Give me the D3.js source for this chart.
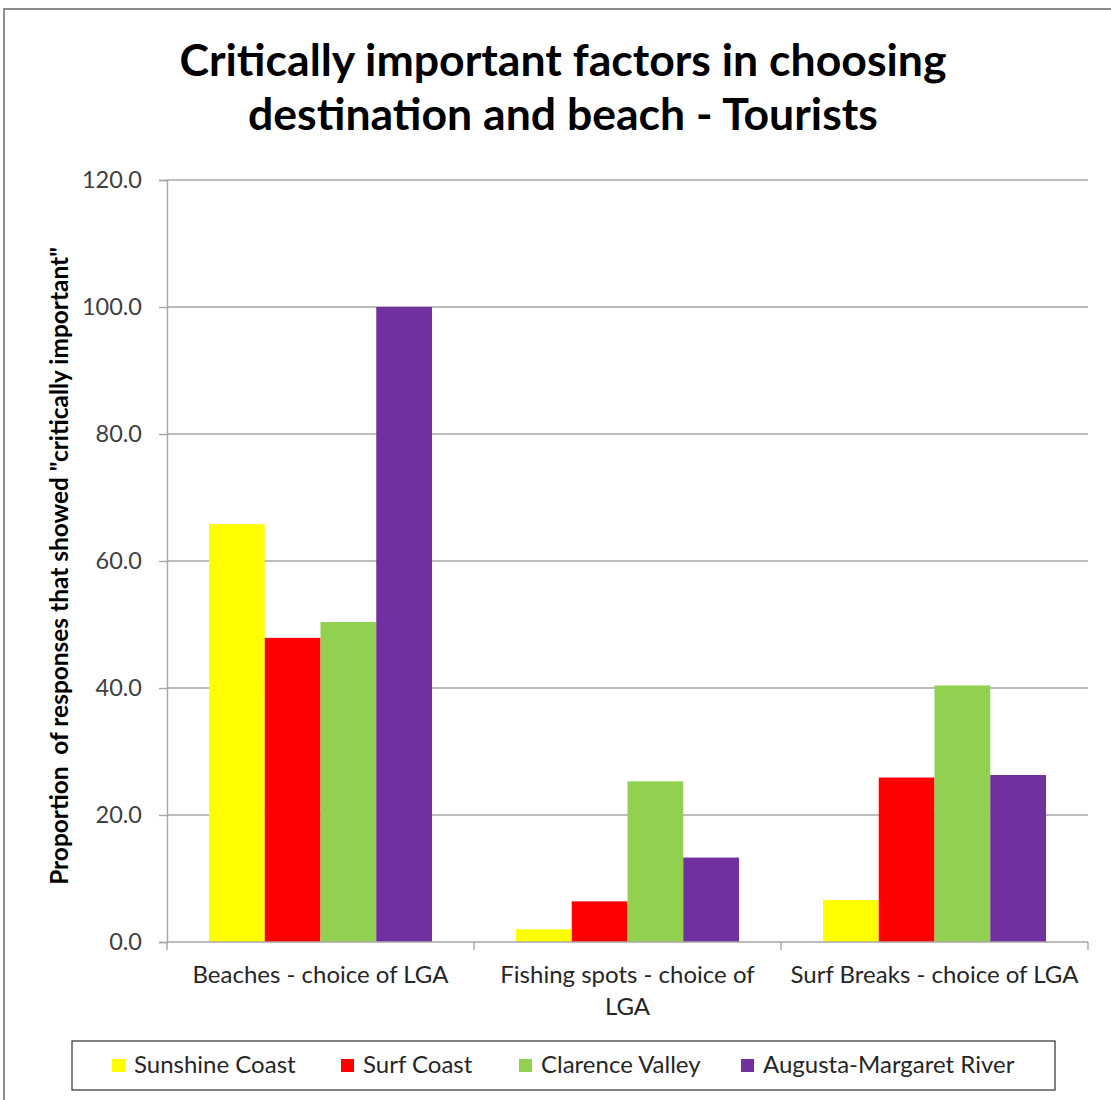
<!DOCTYPE html>
<html>
<head>
<meta charset="utf-8">
<script src="https://cdn.jsdelivr.net/npm/d3@7"></script>
<style>
  html, body { margin: 0; padding: 0; background: #fff; }
  svg { display: block; font-family: Lato, "Open Sans", sans-serif; }
</style>
</head>
<body>
<svg id="chart" width="1111" height="1100"></svg>
<script>
// Survey results: share of tourists rating each factor "critically important"
const categories = [
  "Beaches - choice of LGA",
  "Fishing spots - choice of LGA",
  "Surf Breaks - choice of LGA"
];
const seriesNames = ["Sunshine Coast", "Surf Coast", "Clarence Valley", "Augusta-Margaret River"];
const sunshineCoast = [65.8, 2.0, 6.6];
const surfCoast = [47.9, 6.4, 25.9];
const clarenceValley = [50.4, 25.3, 40.4];
const augustaMargaretRiver = [100.0, 13.3, 26.3];
const yTicks = [0, 20, 40, 60, 80, 100, 120];
const titleLines = ["Critically important factors in choosing", "destination and beach - Tourists"];
const yLabel = "Proportion  of responses that showed \"critically important\"";

const seriesValues = [sunshineCoast, surfCoast, clarenceValley, augustaMargaretRiver];
const colors = ["#FFFF00", "#FF0000", "#92D050", "#7030A0"];

const svg = d3.select("#chart");
const plot = { left: 167, right: 1088, top: 180, bottom: 942 };
const axisColor = "#a6a6a6";
const labelSize = 24;

// Outer chart frame
svg.append("rect")
  .attr("x", 4).attr("y", 9)
  .attr("width", 1130).attr("height", 1110)
  .attr("fill", "#fff")
  .attr("stroke", "#8c8c8c").attr("stroke-width", 2);

// Scale a text element's font size so it spans a given width
function fitWidth(sel, target) {
  const node = sel.node();
  const size = parseFloat(sel.attr("font-size"));
  const len = node.getComputedTextLength();
  const s = size * target / len;
  sel.attr("font-size", s.toFixed(2));
  return s;
}

// Title
let titleSize = 36;
titleLines.forEach((line, i) => {
  const t = svg.append("text")
    .attr("x", 563).attr("y", 76 + i * 54)
    .attr("text-anchor", "middle")
    .attr("font-size", titleSize).attr("font-weight", 700)
    .attr("fill", "#000")
    .text(line);
  if (i === 0) titleSize = fitWidth(t, 767);
});

const x0 = d3.scaleBand().domain(categories).range([plot.left, plot.right]).padding(0);
const x1 = d3.scaleBand().domain(seriesNames).range([0, x0.bandwidth()])
  .paddingInner(0).paddingOuter(0.753);
const y = d3.scaleLinear().domain([0, 120]).range([plot.bottom, plot.top]);

// Horizontal gridlines
svg.append("g")
  .selectAll("line")
  .data(yTicks.filter(d => d > 0))
  .join("line")
  .attr("x1", plot.left).attr("x2", plot.right)
  .attr("y1", d => y(d)).attr("y2", d => y(d))
  .attr("stroke", axisColor).attr("stroke-width", 1.4);

// Bars
const groups = svg.append("g")
  .selectAll("g")
  .data(categories)
  .join("g")
  .attr("transform", d => `translate(${x0(d)},0)`);

groups.selectAll("rect")
  .data((d, i) => seriesNames.map((s, j) => ({ s, v: seriesValues[j][i], c: colors[j] })))
  .join("rect")
  .attr("x", d => x1(d.s))
  .attr("width", x1.bandwidth())
  .attr("y", d => y(d.v))
  .attr("height", d => y(0) - y(d.v))
  .attr("fill", d => d.c);

// Y axis
const yAxis = d3.axisLeft(y)
  .tickValues(yTicks)
  .tickSize(8)
  .tickPadding(17)
  .tickFormat(d3.format(".1f"));
const gy = svg.append("g")
  .attr("transform", `translate(${plot.left},0)`)
  .call(yAxis);
gy.select(".domain").attr("stroke", axisColor).attr("stroke-width", 1.4);
gy.selectAll(".tick line").attr("stroke", axisColor).attr("stroke-width", 1.4);
gy.selectAll(".tick text")
  .attr("font-family", "Lato, sans-serif")
  .attr("font-size", 23.5)
  .attr("fill", "#404040");

// X axis with boundary ticks between categories
const gx = svg.append("g");
gx.append("line")
  .attr("x1", plot.left).attr("x2", plot.right)
  .attr("y1", plot.bottom).attr("y2", plot.bottom)
  .attr("stroke", axisColor).attr("stroke-width", 1.4);
const boundaries = categories.map(c => x0(c)).concat([x0(categories[categories.length - 1]) + x0.bandwidth()]);
gx.selectAll("line.b")
  .data(boundaries)
  .join("line")
  .attr("class", "b")
  .attr("x1", d => d).attr("x2", d => d)
  .attr("y1", plot.bottom).attr("y2", plot.bottom + 8)
  .attr("stroke", axisColor).attr("stroke-width", 1.4);

// Category labels, wrapped to fit their band
const maxLabelWidth = 295;
categories.forEach(cat => {
  const cx = x0(cat) + x0.bandwidth() / 2;
  const t = gx.append("text")
    .attr("x", cx).attr("y", 983)
    .attr("text-anchor", "middle")
    .attr("font-size", labelSize)
    .attr("fill", "#262626");
  const words = cat.split(" ");
  let line = [];
  let tspan = t.append("tspan").attr("x", cx).attr("dy", 0);
  words.forEach(w => {
    line.push(w);
    tspan.text(line.join(" "));
    if (tspan.node().getComputedTextLength() > maxLabelWidth && line.length > 1) {
      line.pop();
      tspan.text(line.join(" "));
      line = [w];
      tspan = t.append("tspan").attr("x", cx).attr("dy", 32).text(w);
    }
  });
});

// Y axis title
const yt = svg.append("text")
  .attr("transform", `translate(68,566) rotate(-90)`)
  .attr("text-anchor", "middle")
  .attr("font-size", 21).attr("font-weight", 700)
  .attr("fill", "#000")
  .style("white-space", "pre")
  .text(yLabel);
fitWidth(yt, 638);

// Legend
const legend = svg.append("g");
legend.append("rect")
  .attr("x", 72).attr("y", 1041)
  .attr("width", 983).attr("height", 49)
  .attr("fill", "#fff")
  .attr("stroke", "#404040").attr("stroke-width", 1.3);
const legendX = [112, 341, 519, 741];
seriesNames.forEach((name, i) => {
  legend.append("rect")
    .attr("x", legendX[i]).attr("y", 1059)
    .attr("width", 13).attr("height", 13)
    .attr("fill", colors[i]);
  legend.append("text")
    .attr("x", legendX[i] + 22).attr("y", 1073)
    .attr("font-size", labelSize)
    .attr("fill", "#262626")
    .text(name);
});
</script>
</body>
</html>
